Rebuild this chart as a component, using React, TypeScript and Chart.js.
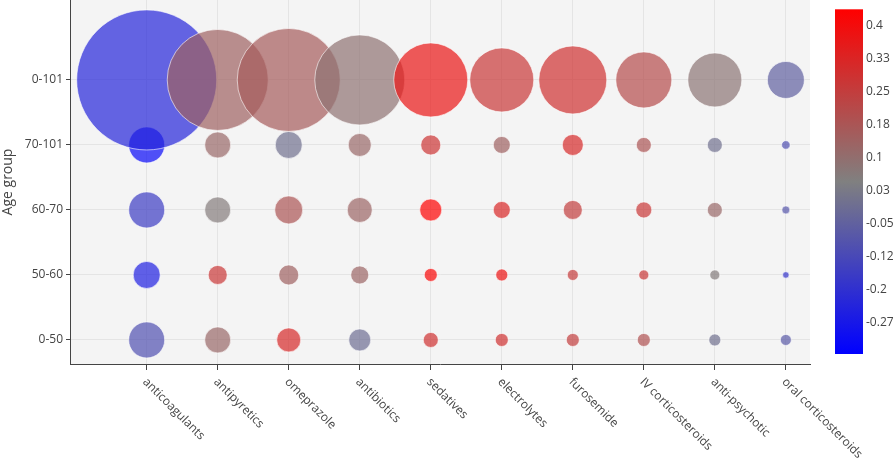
import React, { useEffect, useRef } from "react";
import { Chart, registerables } from "chart.js";

Chart.register(...registerables);

const drugs = [
  "anticoagulants",
  "antipyretics",
  "omeprazole",
  "antibiotics",
  "sedatives",
  "electrolytes",
  "furosemide",
  "IV corticosteroids",
  "anti-psychotic",
  "oral corticosteroids",
];

const ageGroups = ["0-50", "50-60", "60-70", "70-101", "0-101"];

// marker size (diameter) per age group, one value per drug
const size_0_50 = [36, 26, 24, 22, 15, 13, 13, 13, 12, 11];
const size_50_60 = [27, 19, 20, 18, 13, 12, 11, 10, 10, 6.5];
const size_60_70 = [36, 26, 28, 25, 22, 17, 19, 16, 15, 8];
const size_70_101 = [36, 26, 27, 23, 20, 17, 21, 15, 15, 8.5];
const size_0_101 = [140, 101, 103, 90, 74, 64, 68, 56, 54, 37];

// colour value (correlation) per age group, one value per drug
const corr_0_50 = [-0.1, 0.12, 0.31, -0.01, 0.29, 0.29, 0.25, 0.19, 0.0, -0.07];
const corr_50_60 = [-0.25, 0.27, 0.14, 0.13, 0.42, 0.38, 0.26, 0.27, 0.06, -0.18];
const corr_60_70 = [-0.16, 0.06, 0.18, 0.13, 0.43, 0.32, 0.25, 0.27, 0.12, -0.08];
const corr_70_101 = [-0.32, 0.12, 0.0, 0.12, 0.28, 0.14, 0.31, 0.18, 0.0, -0.1];
const corr_0_101 = [-0.23, 0.14, 0.16, 0.09, 0.37, 0.27, 0.29, 0.21, 0.08, -0.05];

const sizesByGroup = [size_0_50, size_50_60, size_60_70, size_70_101, size_0_101];
const corrByGroup = [corr_0_50, corr_50_60, corr_60_70, corr_70_101, corr_0_101];

const colorMin = -0.343;
const colorMax = 0.437;
const colorbarTickValues = [0.4, 0.325, 0.251, 0.176, 0.102, 0.027, -0.048, -0.122, -0.197, -0.271];
const colorbarTickLabels = ["0.4", "0.33", "0.25", "0.18", "0.1", "0.03", "-0.05", "-0.12", "-0.2", "-0.27"];

const FONT = '"Open Sans", verdana, arial, sans-serif';

function colorFor(v: number, alpha: number) {
  let t = (v - colorMin) / (colorMax - colorMin);
  t = Math.max(0, Math.min(1, t));
  let r, g, b;
  if (t < 0.5) {
    const s = t / 0.5;
    r = 128 * s;
    g = 128 * s;
    b = 255 + (128 - 255) * s;
  } else {
    const s = (t - 0.5) / 0.5;
    r = 128 + (255 - 128) * s;
    g = 128 - 128 * s;
    b = 128 - 128 * s;
  }
  return `rgba(${Math.round(r)},${Math.round(g)},${Math.round(b)},${alpha})`;
}

function zeroPad(s: any) {
  s.paddingTop = 0;
  s.paddingBottom = 0;
  s.paddingLeft = 0;
  s.paddingRight = 0;
}

export default function App() {
  const ref = useRef<HTMLCanvasElement | null>(null);

  useEffect(() => {
    document.body.style.margin = "0";
    const canvas = ref.current;
    if (!canvas) return;

    const points: { x: number; y: number; r: number }[] = [];
    const colors: string[] = [];
    ageGroups.forEach((_, gi) => {
      drugs.forEach((_, di) => {
        points.push({ x: di, y: gi, r: sizesByGroup[gi][di] / 2 });
        colors.push(colorFor(corrByGroup[gi][di], 0.7));
      });
    });

    const bgPlugin = {
      id: "bg",
      beforeDraw(chart: any) {
        const { ctx, chartArea } = chart;
        ctx.save();
        ctx.fillStyle = "#ffffff";
        ctx.fillRect(0, 0, chart.width, chart.height);
        ctx.fillStyle = "#f4f4f4";
        ctx.fillRect(chartArea.left, chartArea.top, chartArea.right - chartArea.left, chartArea.bottom - chartArea.top);
        ctx.restore();
      },
      afterDraw(chart: any) {
        const { ctx } = chart;
        const xs = chart.scales.x;
        const cb = chart.scales.cb;
        ctx.save();
        // rotated x labels
        ctx.font = `12px ${FONT}`;
        ctx.fillStyle = "#444";
        ctx.textAlign = "left";
        ctx.textBaseline = "middle";
        drugs.forEach((d, i) => {
          const px = xs.getPixelForValue(i);
          ctx.save();
          ctx.translate(px - 2, chart.chartArea.bottom + 16);
          ctx.rotate(Math.PI / 4);
          ctx.fillText(d, 0, 0);
          ctx.restore();
        });
        // colorbar
        const yTop = cb.getPixelForValue(colorMax);
        const yBot = cb.getPixelForValue(colorMin);
        const x0 = cb.left + 25;
        const grad = ctx.createLinearGradient(0, yTop, 0, yBot);
        grad.addColorStop(0, "rgb(255,0,0)");
        grad.addColorStop(0.5, "rgb(128,128,128)");
        grad.addColorStop(1, "rgb(0,0,255)");
        ctx.fillStyle = grad;
        ctx.fillRect(x0, yTop, 28, yBot - yTop);
        ctx.restore();
      },
    };

    const chart = new Chart(canvas, {
      type: "bubble",
      data: {
        datasets: [
          {
            data: points,
            backgroundColor: colors,
            borderColor: "rgba(255,255,255,0.6)",
            borderWidth: 1,
          },
        ],
      },
      options: {
        animation: false,
        responsive: false,
        events: [],
        layout: { padding: 0, autoPadding: false },
        plugins: {
          legend: { display: false },
          tooltip: { enabled: false },
        },
        scales: {
          x: {
            type: "linear",
            position: "bottom",
            min: -1.08,
            max: 9.34,
            afterBuildTicks: (s: any) => {
              s.ticks = drugs.map((_, i) => ({ value: i }));
            },
            afterFit: (s: any) => {
              s.height = 94;
              zeroPad(s);
            },
            ticks: { display: false },
            grid: { color: "#e4e4e4", tickColor: "#444", tickLength: 6, drawTicks: true },
            border: { display: true, color: "#444", width: 1 },
          },
          y: {
            type: "linear",
            position: "left",
            min: -0.37,
            max: 5.23,
            afterBuildTicks: (s: any) => {
              s.ticks = ageGroups.map((_, i) => ({ value: i }));
            },
            afterFit: (s: any) => {
              s.width = 70;
              zeroPad(s);
            },
            ticks: {
              callback: (v: any) => ageGroups[Math.round(Number(v))],
              font: { size: 12, family: FONT },
              color: "#444",
              padding: 3,
            },
            title: {
              display: true,
              text: "Age group",
              font: { size: 14, family: FONT },
              color: "#444",
              padding: { top: 0, bottom: 0 },
            },
            grid: { color: "#e4e4e4", tickColor: "#444", tickLength: 4, drawTicks: true },
            border: { display: true, color: "#444", width: 1 },
          },
          cb: {
            type: "linear",
            position: "right",
            min: colorMin - 10 / 441.6,
            max: colorMax + 9.3 / 441.6,
            afterBuildTicks: (s: any) => {
              s.ticks = colorbarTickValues.map((v) => ({ value: v }));
            },
            afterFit: (s: any) => {
              s.width = 86;
              zeroPad(s);
            },
            ticks: {
              callback: (_v: any, i: number) => colorbarTickLabels[i],
              font: { size: 12, family: FONT },
              color: "#444",
              padding: 56,
            },
            grid: { display: false, drawTicks: false, drawOnChartArea: false },
            border: { display: false },
          },
        },
      } as any,
      plugins: [bgPlugin],
    });

    return () => chart.destroy();
  }, []);

  return <canvas ref={ref} width={896} height={458} style={{ display: "block" }} />;
}
